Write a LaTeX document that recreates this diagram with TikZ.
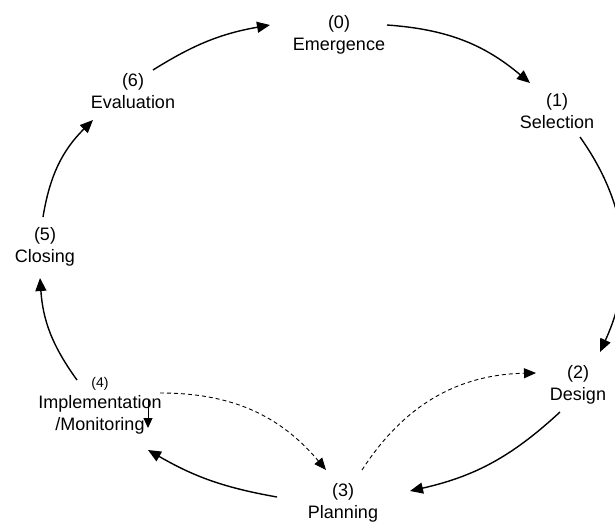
\documentclass[tikz,border=0pt]{standalone}
\usepackage{fontspec}
\setmainfont{Liberation Sans}
\usetikzlibrary{arrows.meta}
\begin{document}
\begin{tikzpicture}[x=1pt,y=-1pt,
  phase/.style={align=center,inner sep=0pt,font=\fontsize{18}{22}\selectfont},
  flow/.style={-{Triangle[length=13pt,width=11pt]},line width=1.4pt},
  feedback/.style={-{Triangle[length=12pt,width=10pt]},line width=0.9pt,dash pattern=on 4pt off 3pt}]
\useasboundingbox (0,0) rectangle (615,527);

% project phases
\node[phase] (e) at (339,35)  {(0)\\Emergence};
\node[phase] (s) at (557,111) {(1)\\Selection};
\node[phase] (d) at (578,385) {(2)\\Design};
\node[phase] (p) at (343,503) {(3)\\Planning};
\node[phase] (i) at (100,406) {{\fontsize{14}{16}\selectfont(4)}\\[-1pt]Implementation\\/Monitoring};
\node[phase] (c) at (45,247)  {(5)\\Closing};
\node[phase] (v) at (133,91)  {(6)\\Evaluation};

% main cycle
\draw[flow] ([shift={(48,-10)}]e.center) to[bend left=18] ([shift={(-27,-28)}]s.center);
\draw[flow] ([shift={(23,26)}]s.center) to[bend left=30] ([shift={(22,-33)}]d.center);
\draw[flow] ([shift={(-18,27)}]d.center) to[bend left=15] ([shift={(67,-12)}]p.center);
\draw[flow] ([shift={(-66,-6)}]p.center) to[bend left=10] ([shift={(48,44)}]i.center);
\draw[flow] ([shift={(-23,-26)}]i.center) to[bend left=16] ([shift={(-5,31)}]c.center);
\draw[flow] ([shift={(-2,-30)}]c.center) to[bend left=18] ([shift={(-40,29)}]v.center);
\draw[flow] ([shift={(20,-21)}]v.center) to[bend left=11] ([shift={(-69,-10)}]e.center);

% feedback between planning, design and implementation
\draw[feedback] ([shift={(19,-33)}]p.center) to[bend left=28] ([shift={(-42,-12)}]d.center);
\draw[feedback] ([shift={(60,-13)}]i.center) to[bend left=25] ([shift={(-17,-33)}]p.center);
\draw[-{Triangle[length=10pt,width=9pt]},line width=0.9pt] ([shift={(48,-6)}]i.center) -- ([shift={(48,22)}]i.center);
\end{tikzpicture}
\end{document}
